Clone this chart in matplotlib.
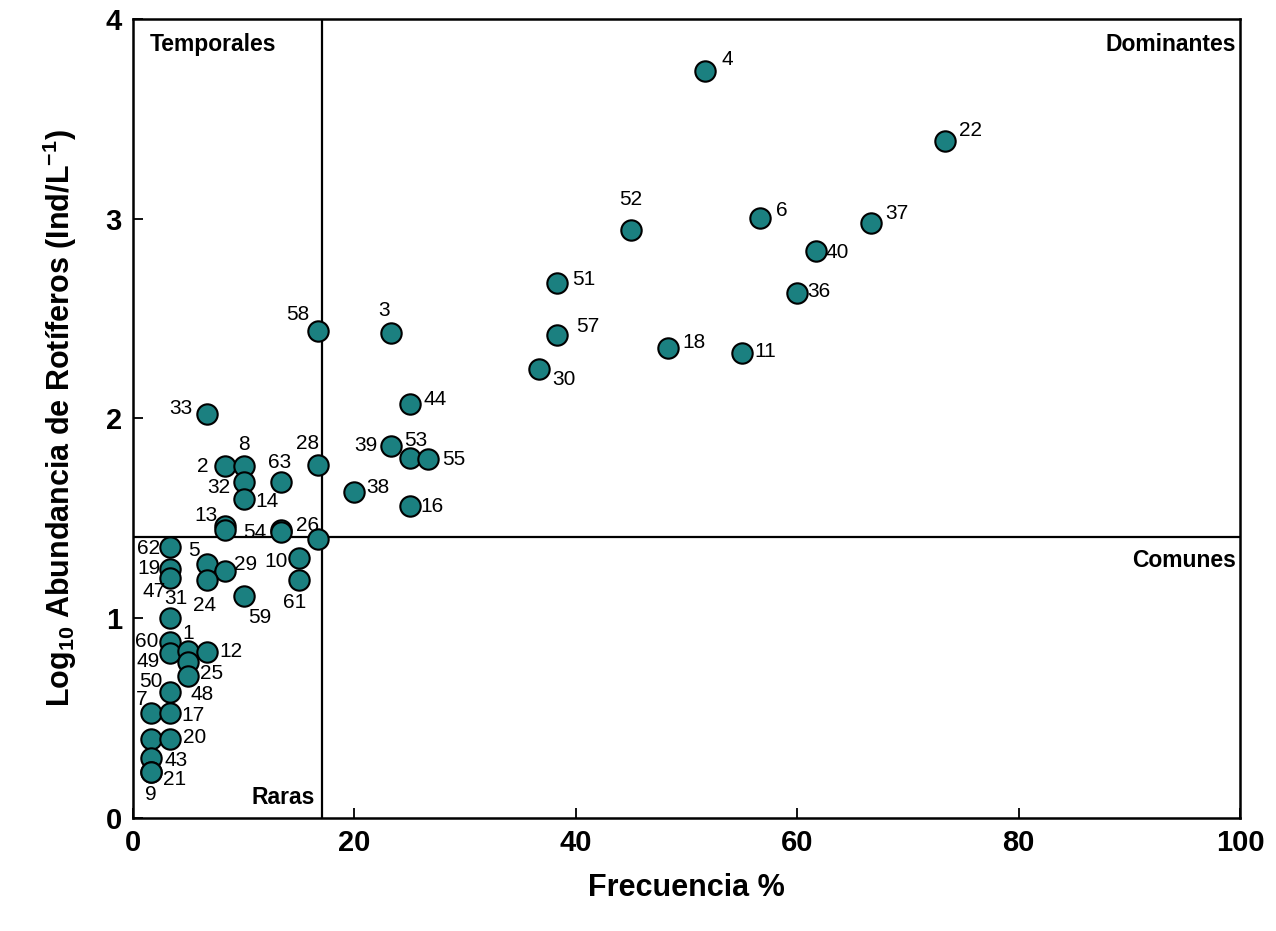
import matplotlib
matplotlib.use("Agg")
import matplotlib.pyplot as plt

plt.rcParams['font.family'] = ['Liberation Sans', 'DejaVu Sans']
plt.rcParams['mathtext.fontset'] = 'custom'
plt.rcParams['mathtext.rm'] = 'Liberation Sans'
plt.rcParams['mathtext.bf'] = 'Liberation Sans:bold'

# Species number, frequency (%) and log10 abundance (Ind/L)
species = ["4", "22", "52", "6", "37", "40", "36", "51", "57", "18", "11", "30",
           "58", "3", "44", "33", "39", "53", "55", "28", "2", "8", "32", "14",
           "63", "38", "16", "", "13", "", "54", "26", "62", "5", "29", "19",
           "47", "24", "10", "61", "59", "31", "60", "49", "1", "12", "50", "25",
           "48", "7", "17", "", "20", "43", "21", "9"]
frecuencia = [51.67, 73.33, 45.0, 56.67, 66.67, 61.67, 60.0, 38.33, 38.33, 48.33, 55.0, 36.67,
              16.67, 23.33, 25.0, 6.67, 23.33, 25.0, 26.67, 16.67, 8.33, 10.0, 10.0, 10.0,
              13.33, 20.0, 25.0, 8.33, 8.33, 13.33, 13.33, 16.67, 3.33, 6.67, 8.33, 3.33,
              3.33, 6.67, 15.0, 15.0, 10.0, 3.33, 3.33, 3.33, 5.0, 6.67, 5.0, 5.0,
              3.33, 1.67, 3.33, 1.67, 3.33, 1.67, 1.67, 1.67]
log_abund = [3.74, 3.39, 2.944, 3.004, 2.98, 2.839, 2.628, 2.678, 2.418, 2.353, 2.328, 2.248,
             2.438, 2.428, 2.073, 2.023, 1.862, 1.802, 1.797, 1.767, 1.762, 1.762, 1.682, 1.597,
             1.682, 1.632, 1.562, 1.46, 1.442, 1.442, 1.43, 1.395, 1.355, 1.27, 1.238, 1.244,
             1.203, 1.191, 1.30, 1.191, 1.111, 1.001, 0.883, 0.825, 0.838, 0.830, 0.779, 0.711,
             0.632, 0.527, 0.527, 0.396, 0.396, 0.299, 0.232, 0.232]

# Thresholds
frec_limite = 17.07
abund_limite = 1.407

# label offsets in pixels (text centre relative to the dot)
label_offsets = {
    "4": (22, 11), "22": (26, 10), "52": (0, 30), "6": (21, 7), "37": (26, 9),
    "40": (22, -2), "36": (22, 2), "51": (26, 4), "57": (30, 8), "18": (26, 5),
    "11": (23, 1), "30": (25, -11), "58": (-20, 16), "3": (-7, 22), "44": (25, 4),
    "33": (-26, 5), "39": (-25, 1), "53": (6, 18), "55": (26, 0), "28": (-10, 22),
    "2": (-22, 0), "8": (0, 22), "32": (-25, -5), "14": (23, -3), "63": (-1, 20),
    "38": (24, 4), "16": (22, -1), "13": (-19, 14), "54": (-26, 0), "26": (-10, 14),
    "62": (-21, -1), "5": (-13, 14), "29": (20, 6), "19": (-21, 1), "47": (-16, -14),
    "24": (-2, -25), "10": (-23, -3), "61": (-4, -22), "59": (16, -21), "31": (6, 20),
    "60": (-23, 0), "49": (-22, -8), "1": (0, 17), "12": (24, 1), "50": (-37, -19),
    "25": (23, 2), "48": (32, -3), "7": (-10, 13), "17": (23, -3), "20": (25, 1),
    "43": (25, -2), "21": (23, -8), "9": (-1, -23),
}

fig = plt.figure(figsize=(12.76, 9.31), dpi=100)
ax = fig.add_axes([0.1042, 0.1214, 0.8676, 0.8582])

ax.axvline(frec_limite, color="black", lw=1.6, zorder=1)
ax.axhline(abund_limite, color="black", lw=1.6, zorder=1)

ax.scatter(frecuencia, log_abund, s=215, color="#1b8080", edgecolor="black",
           linewidth=1.5, zorder=3)

for sp, fx, ly in zip(species, frecuencia, log_abund):
    if sp == "":
        continue
    dx, dy = label_offsets[sp]
    ax.annotate(sp, (fx, ly), xytext=(dx, dy), textcoords="offset pixels",
                ha="center", va="center", fontsize=15, zorder=4)

ax.text(1.5, 3.87, "Temporales", ha="left", va="center", fontsize=16.5, fontweight="bold")
ax.text(99.6, 3.87, "Dominantes", ha="right", va="center", fontsize=16.5, fontweight="bold")
ax.text(99.6, 1.287, "Comunes", ha="right", va="center", fontsize=16.5, fontweight="bold")
ax.text(16.44, 0.105, "Raras", ha="right", va="center", fontsize=16.5, fontweight="bold")

ax.set_xlim(0, 100)
ax.set_ylim(0, 4)
ax.set_xticks([0, 20, 40, 60, 80, 100])
ax.set_yticks([0, 1, 2, 3, 4])
ax.tick_params(direction="in", length=7, width=1.3, labelsize=21, pad=8)
for lab in ax.get_xticklabels() + ax.get_yticklabels():
    lab.set_fontweight("bold")
for sp in ax.spines.values():
    sp.set_linewidth(1.8)

ax.set_xlabel("Frecuencia %", fontsize=22, fontweight="bold", va="center")
ax.xaxis.set_label_coords(0.5, -0.0876)
ax.set_ylabel(r"Log$_\mathbf{10}$ Abundancia de Rotíferos (Ind/L$^\mathbf{-1}$)",
              fontsize=22, fontweight="bold", va="center")
ax.yaxis.set_label_coords(-0.066, 0.5)

plt.savefig("out.png", dpi=100)
